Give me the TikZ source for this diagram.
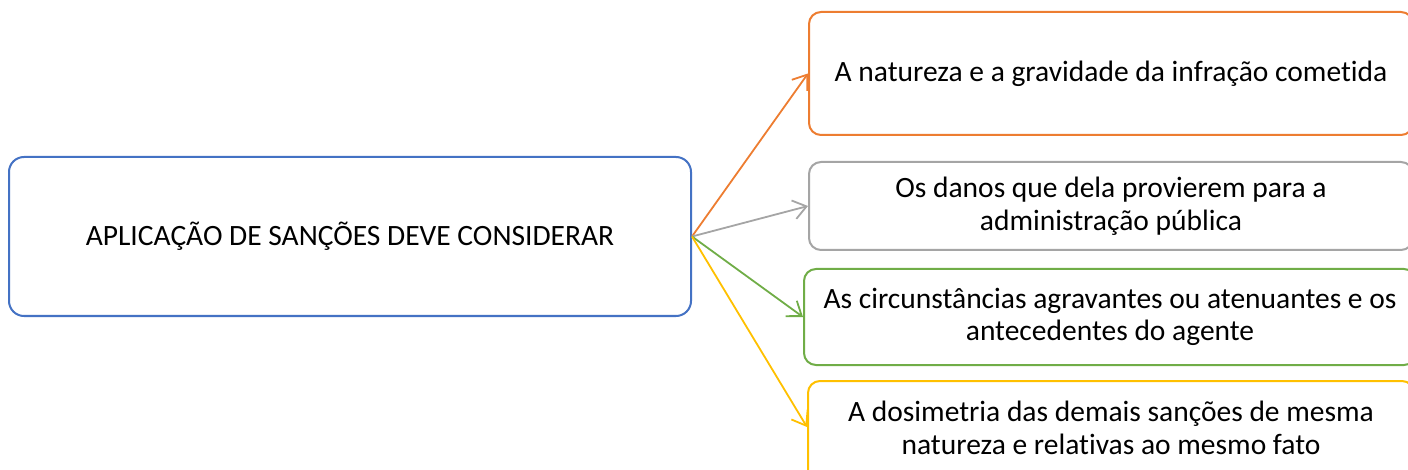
\documentclass[tikz,border=0pt]{standalone}
\usepackage{fontspec}
\setmainfont{Carlito}[Ligatures=NoCommon]
\usetikzlibrary{arrows.meta, positioning}

\definecolor{officeblue}{HTML}{4472C4}
\definecolor{officeorange}{HTML}{ED7D31}
\definecolor{officegray}{HTML}{A5A5A5}
\definecolor{officegreen}{HTML}{70AD47}
\definecolor{officegold}{HTML}{FFC000}

\begin{document}
\begin{tikzpicture}[x=1pt, y=-1pt,
  mainbox/.style={draw=officeblue, line width=2pt, rounded corners=15pt, fill=white, minimum width=682pt, minimum height=159pt, align=center},
  itembox/.style={draw=#1, line width=2pt, rounded corners=12pt, fill=white, minimum width=604pt, align=center, inner sep=0pt},
  link/.style={draw=#1, line width=1.8pt, -{Straight Barb[length=13pt, width=19pt, line width=1.8pt]}},
  font=\fontsize{29.5}{32.5}\selectfont
]
\useasboundingbox (0,0) rectangle (1408,470);
\clip (0,0) rectangle (1408,470);

\node[mainbox] (apply) at (350,236.5) {APLICAÇÃO DE SANÇÕES DEVE CONSIDERAR};

\node[itembox=officeorange, minimum height=123pt] (nature) at (1111,73.5) {A natureza e a gravidade da infração cometida};
\node[itembox=officegray, minimum height=88pt, below=25pt of nature] (damage) {Os danos que dela provierem para a\\administração pública};
\node[itembox=officegreen, minimum height=96pt, minimum width=612pt, below=17pt of damage, xshift=-1pt] (circum) {As circunstâncias agravantes ou atenuantes e os\\antecedentes do agente};
\node[itembox=officegold, minimum height=104pt, minimum width=606pt, text depth=10pt, below=14pt of circum, xshift=1pt] (dosim) {A dosimetria das demais sanções de mesma\\natureza e relativas ao mesmo fato};

\draw[link=officeorange] (apply.east) -- (nature.west);
\draw[link=officegray] (apply.east) -- (damage.west);
\draw[link=officegreen] (apply.east) -- (circum.west);
\draw[link=officegold] (apply.east) -- ([yshift=6pt]dosim.west);

\end{tikzpicture}
\end{document}
